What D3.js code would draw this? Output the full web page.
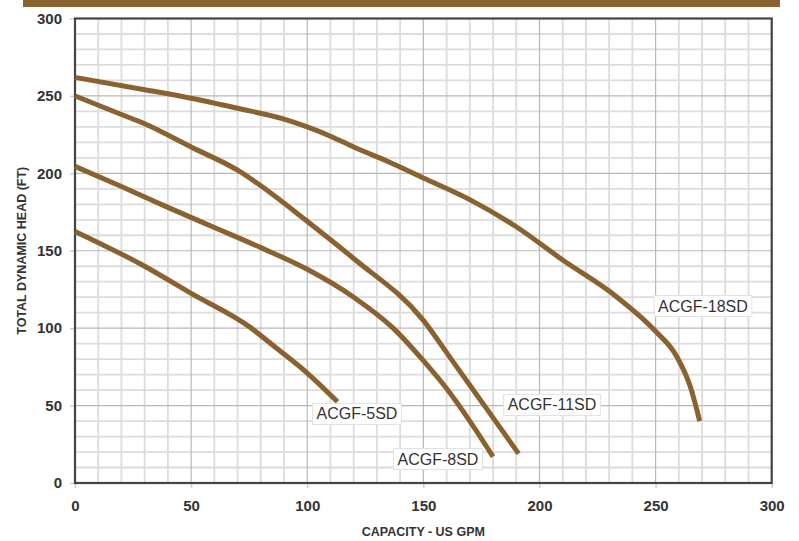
<!DOCTYPE html>
<html>
<head>
<meta charset="utf-8">
<script src="https://cdn.jsdelivr.net/npm/d3@7"></script>
<style>
  html, body { margin: 0; padding: 0; background: #fff; }
  svg { display: block; }
</style>
</head>
<body>
<svg id="chart" width="799" height="541"></svg>
<script>
// ---- data ----
const seriesNames = ["ACGF-5SD", "ACGF-8SD", "ACGF-11SD", "ACGF-18SD"];
const gpm5  = [0, 30, 50, 75, 86, 100, 113];
const head5 = [162.5, 140, 122.5, 101, 88, 71, 52.5];
const gpm8  = [0, 20, 40, 60, 80, 100, 120, 137, 150, 160, 170, 180];
const head8 = [204.5, 191.5, 178, 165, 152, 138, 120, 100, 79, 61, 40, 17];
const gpm11  = [0, 20, 30, 50, 70, 80, 100, 120, 150, 162, 177, 191];
const head11 = [250, 238, 232, 217, 202, 192, 169, 145, 105, 80, 48.5, 19];
const gpm18  = [0, 30, 50, 70, 90, 100, 110, 120, 135, 150, 170, 190, 210, 233, 250, 259, 265, 269];
const head18 = [262, 254, 248.5, 242, 235, 230, 224, 217, 207.5, 197, 183, 165.5, 144, 120.5, 98, 82, 62, 40];
// label anchor positions (data units: gpm, head)
const labelGpm  = [121.4, 156.3, 205.4, 270.4];
const labelHead = [44.6, 15.5, 50.4, 114.3];
const xTicks = [0, 50, 100, 150, 200, 250, 300];
const yTicks = [0, 50, 100, 150, 200, 250, 300];
const xTitle = "CAPACITY - US GPM";
const yTitle = "TOTAL DYNAMIC HEAD (FT)";

const series = [
  {name: seriesNames[0], gpm: gpm5, head: head5},
  {name: seriesNames[1], gpm: gpm8, head: head8},
  {name: seriesNames[2], gpm: gpm11, head: head11},
  {name: seriesNames[3], gpm: gpm18, head: head18}
];

(function () {
// ---- layout ----
const svg = d3.select("#chart");
const pl = 75, pr = 771.7, pt = 18.5, pb = 483;
const x = d3.scaleLinear().domain([0, 300]).range([pl, pr]);
const y = d3.scaleLinear().domain([0, 300]).range([pb, pt]);
const brown = "#8a6230";

// banner
svg.append("rect").attr("x", 23).attr("y", 0).attr("width", 757).attr("height", 7)
  .attr("fill", brown);

// grid
const g = svg.append("g");
const minor = d3.range(0, 301, 10);
g.selectAll("line.vx").data(minor.filter(d => d % 50 !== 0)).join("line")
  .attr("x1", d => x(d)).attr("x2", d => x(d)).attr("y1", pt).attr("y2", pb)
  .attr("stroke", "#dcdcdc").attr("stroke-width", 1.8);
g.selectAll("line.hy").data(minor.filter(d => d % 50 !== 0)).join("line")
  .attr("y1", d => y(d)).attr("y2", d => y(d)).attr("x1", pl).attr("x2", pr)
  .attr("stroke", "#dcdcdc").attr("stroke-width", 1.8);
g.selectAll("line.mx").data(xTicks).join("line")
  .attr("x1", d => x(d)).attr("x2", d => x(d)).attr("y1", pt).attr("y2", pb)
  .attr("stroke", "#b8b8b8").attr("stroke-width", 1.2);
g.selectAll("line.my").data(yTicks).join("line")
  .attr("y1", d => y(d)).attr("y2", d => y(d)).attr("x1", pl).attr("x2", pr)
  .attr("stroke", "#b8b8b8").attr("stroke-width", 1.2);

// axes
const xAxis = svg.append("g").attr("transform", `translate(0,${pb})`)
  .call(d3.axisBottom(x).tickValues(xTicks).tickSize(5).tickPadding(12));
const yAxis = svg.append("g").attr("transform", `translate(${pl},0)`)
  .call(d3.axisLeft(y).tickValues(yTicks).tickSize(5).tickPadding(8));
[xAxis, yAxis].forEach(a => {
  a.select(".domain").remove();
  a.selectAll(".tick line").attr("stroke", "#cfcfcf").attr("stroke-width", 1.5);
  a.selectAll(".tick text").attr("fill", "#333")
    .style("font-family", "Liberation Sans, Arial, sans-serif")
    .style("font-size", "15px").style("font-weight", "bold");
});

// frame
svg.append("rect").attr("x", pl).attr("y", pt)
  .attr("width", pr - pl).attr("height", pb - pt)
  .attr("fill", "none").attr("stroke", "#444").attr("stroke-width", 2.2);

// curves
const line = d3.line().x(d => x(d[0])).y(d => y(d[1])).curve(d3.curveMonotoneX);
svg.append("g").selectAll("path").data(series).join("path")
  .attr("d", s => line(s.gpm.map((v, i) => [v, s.head[i]])))
  .attr("fill", "none").attr("stroke", brown).attr("stroke-width", 5)
  .attr("stroke-linecap", "butt").attr("stroke-linejoin", "round");

// labels
const lg = svg.append("g");
series.forEach((s, i) => {
  const cx = x(labelGpm[i]), cy = y(labelHead[i]);
  const grp = lg.append("g");
  const rect = grp.append("rect");
  const t = grp.append("text").attr("x", cx).attr("y", cy)
    .attr("text-anchor", "middle").attr("dominant-baseline", "central")
    .attr("fill", "#333")
    .style("font-family", "Liberation Sans, Arial, sans-serif").style("font-size", "16px")
    .text(s.name);
  const bb = t.node().getBBox();
  rect.attr("x", bb.x - 4).attr("y", cy - 10.5).attr("width", bb.width + 8).attr("height", 21)
    .attr("fill", "#fff").attr("stroke", "#e2e2e2").attr("stroke-width", 1);
});

// titles
svg.append("text").attr("x", (pl + pr) / 2).attr("y", 536)
  .attr("text-anchor", "middle").attr("fill", "#333")
  .style("font-family", "Liberation Sans, Arial, sans-serif").style("font-size", "12.5px")
  .style("font-weight", "bold").text(xTitle);
svg.append("text").attr("transform", `translate(26,${(pt + pb) / 2}) rotate(-90)`)
  .attr("text-anchor", "middle").attr("fill", "#333")
  .style("font-family", "Liberation Sans, Arial, sans-serif").style("font-size", "12.5px")
  .style("font-weight", "bold").text(yTitle);
})();
</script>
</body>
</html>
